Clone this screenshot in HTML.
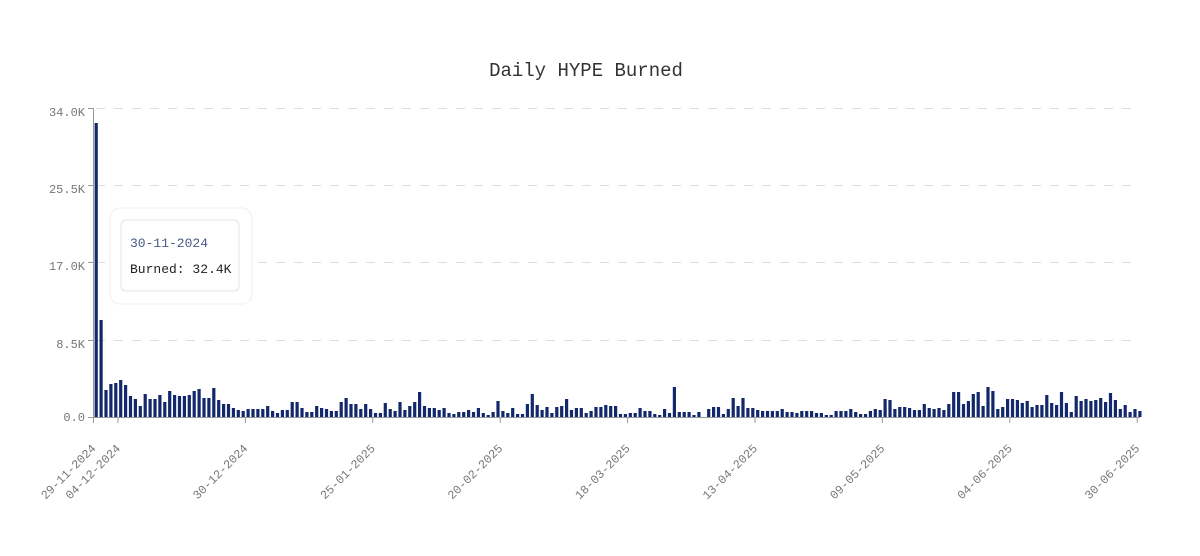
<!DOCTYPE html>
<html><head><meta charset="utf-8"><style>
body{margin:0;background:#fff}
svg{display:block;font-family:"Liberation Mono","DejaVu Sans Mono",monospace}
</style></head><body>
<svg width="1200" height="556" xmlns="http://www.w3.org/2000/svg" id="s">
<text x="586" y="76" text-anchor="middle" font-size="19" fill="#333">Daily HYPE Burned</text>
<g stroke="#ddd" stroke-dasharray="9,9" stroke-width="1">
<line x1="96" x2="1140" y1="108.5" y2="108.5"/>
<line x1="96" x2="1140" y1="185.5" y2="185.5"/>
<line x1="96" x2="1140" y1="262.5" y2="262.5"/>
<line x1="96" x2="1140" y1="340.5" y2="340.5"/>
</g>
<g font-size="12" fill="#777" text-anchor="end">
<text x="85" y="116">34.0K</text>
<text x="85" y="193">25.5K</text>
<text x="85" y="270">17.0K</text>
<text x="85" y="348">8.5K</text>
<text x="85" y="421">0.0</text>
</g>
<g stroke="#999" stroke-width="1">
<line x1="93.5" x2="93.5" y1="108" y2="417"/>
<line x1="88" x2="93.5" y1="108.5" y2="108.5"/>
<line x1="88" x2="93.5" y1="185.5" y2="185.5"/>
<line x1="88" x2="93.5" y1="262.5" y2="262.5"/>
<line x1="88" x2="93.5" y1="340.5" y2="340.5"/>
<line x1="88" x2="93.5" y1="417.5" y2="417.5"/>
<line x1="93" x2="1140" y1="417.5" y2="417.5"/>
</g>
<g id="bars" fill="#12286b"></g>
<g id="ticks" stroke="#999"></g>
<g id="xl" font-size="12" fill="#777" text-anchor="end"></g>
<rect x="110" y="208" width="142" height="96" rx="10" fill="#fff" stroke="#eee"/>
<rect x="121" y="220" width="118" height="71" rx="5" fill="#fff" stroke="#e4e4e4"/>
<text x="130" y="247" font-size="13" fill="#4a5a85">30-11-2024</text>
<text x="130" y="273" font-size="13" fill="#222">Burned: 32.4K</text>
</svg>
<script>
var h=[294,97,27,33,34,37,32,21,18,11,23,18,18,22,15,26,22,21,21,22,26,28,19,19,29,17,13,13,9,7,6,8,8,8,8,11,6,4,7,7,15,15,9,5,5,11,9,8,6,6,15,19,13,13,8,13,8,4,4,14,8,6,15,7,11,15,25,11,9,
9,7,9,4,3,5,5,7,5,9,4,2,5,16,6,4,9,3,3,13,23,12,7,10,4,10,11,18,7,9,9,4,6,10,10,12,11,11,3,3,4,4,9,6,6,3,2,8,4,30,5,5,5,2,5,0,8,10,10,3,8,19,11,19,9,9,7,6,6,6,6,8,5,5,4,
6,6,6,4,4,2,2,6,6,6,8,5,3,3,6,8,7,18,17,8,10,10,9,7,7,13,9,8,9,7,13,25,25,13,16,23,25,11,30,26,8,10,18,18,17,14,16,10,12,12,22,14,12,25,14,5,21,16,18,16,17,19,15,24,17,8,12,5,8,6];
var ns="http://www.w3.org/2000/svg",b=document.getElementById("bars"),st=4.9;
for(var i=0;i<214;i++){var r=document.createElementNS(ns,"rect");var v=h[i]||0;r.setAttribute("x",94.6+st*i);r.setAttribute("width",3.2);r.setAttribute("y",417-v);r.setAttribute("height",v);b.appendChild(r);}
var t=[[0,"29-11-2024"],[5,"04-12-2024"],[31,"30-12-2024"],[57,"25-01-2025"],[83,"20-02-2025"],[109,"18-03-2025"],[135,"13-04-2025"],[161,"09-05-2025"],[187,"04-06-2025"],[213,"30-06-2025"]];
var tk=document.getElementById("ticks"),xl=document.getElementById("xl");
t.forEach(function(a){var x=93.5+st*a[0];var l=document.createElementNS(ns,"line");l.setAttribute("x1",x);l.setAttribute("x2",x);l.setAttribute("y1",417);l.setAttribute("y2",423);tk.appendChild(l);
var tx=document.createElementNS(ns,"text");tx.setAttribute("transform","translate("+(x+3)+",449) rotate(-45)");tx.textContent=a[1];xl.appendChild(tx);});
</script>
</body></html>
